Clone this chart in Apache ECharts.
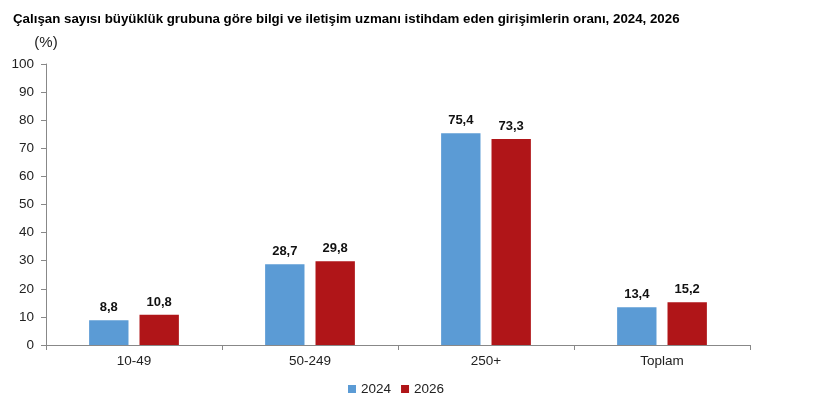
<!DOCTYPE html>
<html>
<head>
<meta charset="utf-8">
<script src="https://cdn.jsdelivr.net/npm/echarts@6/dist/echarts.min.js"></script>
<style>
html, body { margin: 0; padding: 0; background: #fff; }
#chart { width: 820px; height: 411px; }
</style>
</head>
<body>
<div id="chart"></div>
<script>
var categories = ['10-49', '50-249', '250+', 'Toplam'];
var values2024 = [8.8, 28.7, 75.4, 13.4];
var values2026 = [10.8, 29.8, 73.3, 15.2];
var yTicks = [0, 10, 20, 30, 40, 50, 60, 70, 80, 90, 100];

var chart = echarts.init(document.getElementById('chart'));

function fmt(p) {
    return String(p.value).replace('.', ',');
}

var option = {
    animation: false,
    textStyle: { fontFamily: 'Liberation Sans, Arial, sans-serif' },
    title: {
        text: 'Çalışan sayısı büyüklük grubuna göre bilgi ve iletişim uzmanı istihdam eden girişimlerin oranı, 2024, 2026',
        left: 8,
        top: 8,
        textStyle: { fontSize: 13.3, fontWeight: 'bold', color: '#000' }
    },
    legend: {
        bottom: 10,
        left: 343,
        itemWidth: 8,
        itemHeight: 8,
        itemGap: 10,
        icon: 'rect',
        textStyle: { fontSize: 13.5, color: '#222' },
        data: ['2024', '2026']
    },
    grid: { left: 46, right: 70, top: 64, bottom: 66 },
    xAxis: {
        type: 'category',
        data: categories,
        axisLine: { lineStyle: { color: '#888' } },
        axisTick: { show: true, length: 5, lineStyle: { color: '#888' } },
        axisLabel: { fontSize: 13.5, color: '#222', margin: 9 }
    },
    yAxis: {
        type: 'value',
        min: yTicks[0],
        max: yTicks[yTicks.length - 1],
        interval: 10,
        name: '(%)',
        nameLocation: 'end',
        nameGap: 14,
        nameTextStyle: { fontSize: 15, color: '#222', align: 'center' },
        axisLine: { show: true, lineStyle: { color: '#888' } },
        axisTick: { show: true, length: 5, lineStyle: { color: '#888' } },
        axisLabel: { fontSize: 13.5, color: '#222', margin: 12 },
        splitLine: { show: false }
    },
    series: [
        {
            name: '2024',
            type: 'bar',
            data: values2024,
            barGap: '28%',
            barCategoryGap: '49%',
            itemStyle: { color: '#5B9BD5' },
            label: { show: true, position: 'top', distance: 6, fontSize: 13, fontWeight: 'bold', color: '#111', formatter: fmt }
        },
        {
            name: '2026',
            type: 'bar',
            data: values2026,
            itemStyle: { color: '#B01518' },
            label: { show: true, position: 'top', distance: 6, fontSize: 13, fontWeight: 'bold', color: '#111', formatter: fmt }
        }
    ]
};

chart.setOption(option);
</script>
</body>
</html>
